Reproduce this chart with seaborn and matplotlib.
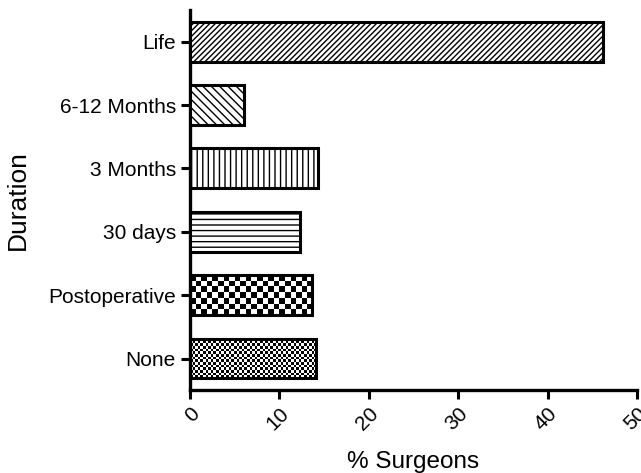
import matplotlib
matplotlib.use("Agg")
import matplotlib.pyplot as plt
import seaborn as sns
import pandas as pd
import numpy as np

categories = ["Life", "6-12 Months", "3 Months", "30 days", "Postoperative", "None"]
values = [46.2, 6.1, 14.3, 12.3, 13.7, 14.1]
hatches = ["//////", "\\\\\\\\", "|||", "---", None, None]
checker_px = [None, None, None, None, 5.5, 2.6]
xticks = [0, 10, 20, 30, 40, 50]

sns.set_style("ticks")
plt.rcParams["font.family"] = ["Liberation Sans", "DejaVu Sans"]
plt.rcParams["hatch.linewidth"] = 1.0
plt.rcParams["text.color"] = "black"
plt.rcParams["axes.labelcolor"] = "black"
plt.rcParams["xtick.color"] = "black"
plt.rcParams["ytick.color"] = "black"

df = pd.DataFrame({"Duration": categories, "Surgeons": values})

fig = plt.figure(figsize=(6.41, 4.73), dpi=100)
ax = fig.add_axes([0.296, 0.175, 0.698, 0.804])
sns.barplot(data=df, x="Surgeons", y="Duration", order=categories, color="white",
            width=0.63, edgecolor="black", linewidth=2.2, ax=ax, orient="h")
ax.set_xlim(0, 50)
ax.set_ylim(5.5, -0.5)

bbox_ax = ax.get_window_extent()
px_per_x = bbox_ax.width / 50.0
px_per_y = bbox_ax.height / 6.0
for p, h, c in zip(list(ax.patches), hatches, checker_px):
    p.set_facecolor("white")
    p.set_edgecolor("black")
    p.set_zorder(3)
    if h:
        p.set_hatch(h)
    if c:
        x0, y0 = p.get_x(), p.get_y()
        w, hh = p.get_width(), p.get_height()
        nx = max(1, int(round(w * px_per_x / c)))
        ny = max(1, int(round(hh * px_per_y / c)))
        grid = (np.add.outer(np.arange(ny), np.arange(nx)) % 2).astype(float)
        p.set_facecolor("none")
        im = ax.imshow(grid, cmap="gray", extent=(x0, x0 + w, y0 + hh, y0),
                       interpolation="nearest", aspect="auto", zorder=2)
        im.set_clip_path(p)

ax.set_xlim(0, 50)
ax.set_ylim(5.5, -0.5)
ax.set_xticks(xticks)
ax.set_xticklabels([str(t) for t in xticks], rotation=45, ha="right",
                   rotation_mode="anchor", fontsize=15)
ax.tick_params(axis="y", labelsize=15)
ax.tick_params(axis="both", direction="out", length=6.5, width=2.2, color="black", labelcolor="black")
for s in ["top", "right"]:
    ax.spines[s].set_visible(False)
for s in ["left", "bottom"]:
    ax.spines[s].set_linewidth(2.4)
    ax.spines[s].set_color("black")
ax.set_xlabel("% Surgeons", fontsize=17.5, labelpad=12)
ax.set_ylabel("Duration", fontsize=19, labelpad=13)

fig.savefig("out.png", dpi=100)
